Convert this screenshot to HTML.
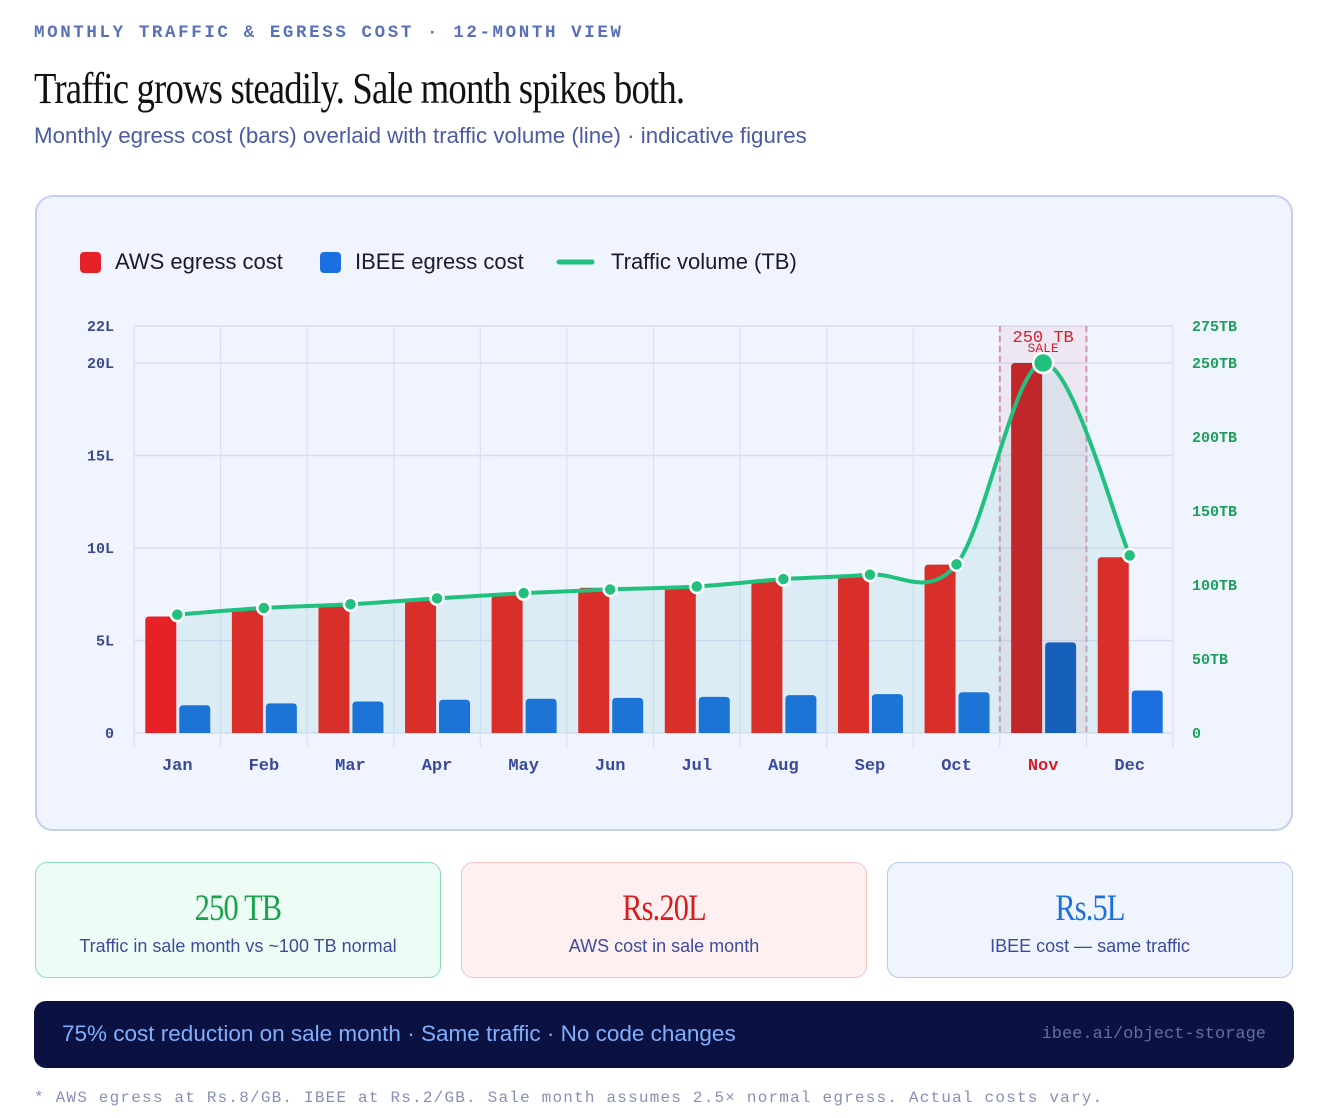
<!DOCTYPE html>
<html><head><meta charset="utf-8">
<style>
*{margin:0;padding:0;box-sizing:border-box}
body{width:1328px;height:1118px;background:#fff;position:relative;overflow:hidden;font-family:"Liberation Sans",sans-serif}
.abs{position:absolute}
.eyebrow{left:34px;top:23px;font-family:"Liberation Mono",monospace;font-size:17.5px;letter-spacing:2.6px;color:#5a70b8;font-weight:bold}
.title{left:34px;top:63px;font-family:"Liberation Serif",serif;font-size:44px;color:#111;white-space:nowrap;transform:scaleX(0.835);transform-origin:left top;letter-spacing:-1px}
.sub{left:34px;top:123px;font-size:22.3px;color:#4b5aa8;white-space:nowrap}
.chartcard{left:35px;top:195px;width:1258px;height:636px;border:2px solid #c3cff0;border-radius:18px;background:#eff4fe}
.card{top:862px;width:406px;height:116px;border-radius:12px;text-align:center}
.card .big{font-family:"Liberation Serif",serif;font-size:37px;margin-top:24px;transform:scaleX(0.82);letter-spacing:-1px}
.card .lbl{font-size:18px;color:#3d4c9a;margin-top:6px}
.banner{left:34px;top:1001px;width:1260px;height:67px;border-radius:12px;background:#0b1140}
.foot{left:34px;top:1089px;font-family:"Liberation Mono",monospace;font-size:16px;letter-spacing:1.2px;color:#8590b8;white-space:nowrap}
</style></head><body>
<div class="abs eyebrow">MONTHLY TRAFFIC &amp; EGRESS COST · 12-MONTH VIEW</div>
<div class="abs title">Traffic grows steadily. Sale month spikes both.</div>
<div class="abs sub">Monthly egress cost (bars) overlaid with traffic volume (line) · indicative figures</div>
<div class="abs chartcard"></div>
<svg class="abs" style="left:0;top:0" width="1328" height="850" id="chart">
<g id="legend">
<g><rect x="80" y="252" width="21" height="21" rx="4" fill="#e52227"/><text x="115" y="269" font-size="22" fill="#1a1a2e" font-family="Liberation Sans">AWS egress cost</text></g>
<g><rect x="320" y="252" width="21" height="21" rx="4" fill="#1b6fe0"/><text x="355" y="269" font-size="22" fill="#1a1a2e" font-family="Liberation Sans">IBEE egress cost</text></g>
<g><line x1="559" y1="262" x2="592" y2="262" stroke="#22c07e" stroke-width="5" stroke-linecap="round"/><text x="611" y="269" font-size="22" fill="#1a1a2e" font-family="Liberation Sans">Traffic volume (TB)</text></g>
</g>
<g id="grid"></g><g id="band"></g><g id="fill"></g><g id="bars"></g><g id="line"></g><g id="axes"></g>
</svg>
<div class="abs card" style="left:35px;background:#edfdf6;border:1px solid #86e0b0"><div class="big" style="color:#17a34a">250 TB</div><div class="lbl">Traffic in sale month vs ~100 TB normal</div></div>
<div class="abs card" style="left:461px;background:#fef0f0;border:1px solid #f8c4c4"><div class="big" style="color:#d91c1c">Rs.20L</div><div class="lbl">AWS cost in sale month</div></div>
<div class="abs card" style="left:887px;background:#eff4fe;border:1px solid #b5c9f5"><div class="big" style="color:#1b6fe0">Rs.5L</div><div class="lbl">IBEE cost — same traffic</div></div>
<div class="abs banner">
<div class="abs" style="left:28px;top:20px;font-size:22.5px;color:#7fb0ff;white-space:nowrap">75% cost reduction on sale month · Same traffic · No code changes</div>
<div class="abs" style="right:28px;top:24px;font-family:'Liberation Mono',monospace;font-size:17px;color:#5f6fa8">ibee.ai/object-storage</div>
</div>
<div class="abs foot">* AWS egress at Rs.8/GB. IBEE at Rs.2/GB. Sale month assumes 2.5× normal egress. Actual costs vary.</div>
<script>
const months=["Jan","Feb","Mar","Apr","May","Jun","Jul","Aug","Sep","Oct","Nov","Dec"];
const awsCost=[6.3,6.7,6.9,7.2,7.45,7.85,7.95,8.2,8.45,9.1,20,9.5];
const ibeeCost=[1.5,1.6,1.7,1.8,1.85,1.9,1.95,2.05,2.1,2.2,4.9,2.3];
const traffic=[80,84.5,87,91,94.5,97,99,104,107,114,250,120];
const leftTicks=[0,5,10,15,20,22];
const rightTicks=[0,50,100,150,200,250,275];
const saleIndex=10;
const NS="http://www.w3.org/2000/svg";
const X0=134,X1=1173,Y0=733,Y1=326,LMAX=22,RMAX=275;
const bw=(X1-X0)/months.length;
const xc=i=>X0+bw*(i+0.5);
const yL=v=>Y0-(Y0-Y1)*v/LMAX;
const yR=v=>Y0-(Y0-Y1)*v/RMAX;
function mk(tag,attrs,parent,txt){const e=document.createElementNS(NS,tag);for(const k in attrs)e.setAttribute(k,attrs[k]);if(txt!==undefined)e.textContent=txt;document.getElementById(parent).appendChild(e);return e;}
const mono="Liberation Mono";
leftTicks.forEach(t=>{const l=mk('line',{x1:X0,x2:X1,y1:yL(t),y2:yL(t),stroke:'#d6ddf3','stroke-width':1.5},'grid');
});
for(let i=0;i<=months.length;i++){const l=mk('line',{x1:X0+bw*i,x2:X0+bw*i,y1:Y1,y2:Y0+14,stroke:'#dbe1f5','stroke-width':1.2},'grid');
}
const bx=X0+bw*saleIndex;
let e=mk('rect',{x:bx,y:Y1,width:bw,height:Y0-Y1,fill:'rgba(230,60,100,0.07)'},'band');

[bx,bx+bw].forEach(x=>{const d=mk('line',{x1:x,x2:x,y1:Y1,y2:Y0,stroke:'#d9929f','stroke-width':2,'stroke-dasharray':'6 4'},'band');
});
const pts=traffic.map((v,i)=>[xc(i),yR(v)]);
let d='M'+pts[0][0]+','+pts[0][1];
for(let i=0;i<pts.length-1;i++){const p0=pts[Math.max(0,i-1)],p1=pts[i],p2=pts[i+1],p3=pts[Math.min(pts.length-1,i+2)];
d+=' C'+(p1[0]+(p2[0]-p0[0])/6)+','+(p1[1]+(p2[1]-p0[1])/6)+' '+(p2[0]-(p3[0]-p1[0])/6)+','+(p2[1]-(p3[1]-p1[1])/6)+' '+p2[0]+','+p2[1];}
e=mk('path',{d:d+' L'+pts[pts.length-1][0]+','+Y0+' L'+pts[0][0]+','+Y0+' Z',fill:'rgba(150,210,210,0.22)'},'fill');

months.forEach((m,i)=>{const c=xc(i);const sale=i===saleIndex;
const r=mk('path',{d:bar(c-32,31,awsCost[i]),fill:sale?'#c1262a':(i===0?'#e62226':'#d82f2a')},'bars');

const b=mk('path',{d:bar(c+2,31,ibeeCost[i]),fill:sale?'#1560bb':(i===11?'#1b6fe0':'#1b74d6')},'bars');
});
function bar(x,w,v){const y=yL(v),r=4;return `M${x},${Y0} L${x},${y+r} Q${x},${y} ${x+r},${y} L${x+w-r},${y} Q${x+w},${y} ${x+w},${y+r} L${x+w},${Y0} Z`;}
e=mk('path',{d:d,fill:'none',stroke:'#22c07e','stroke-width':4,'stroke-linejoin':'round'},'line');

pts.forEach((p,i)=>{const c=mk('circle',{cx:p[0],cy:p[1],r:i===saleIndex?10:6.5,fill:'#22c07e',stroke:'#fff','stroke-width':2.5},'line');
});
e=mk('text',{x:xc(saleIndex),y:yR(traffic[saleIndex])-21,'text-anchor':'middle','font-family':mono,'font-size':17,fill:'#d71f2a'},'line',traffic[saleIndex]+' TB');

e=mk('text',{x:xc(saleIndex),y:yR(traffic[saleIndex])-11,'text-anchor':'middle','font-family':mono,'font-size':13,fill:'#d71f2a'},'line','SALE');

leftTicks.forEach(t=>{const l=mk('text',{x:114,y:yL(t)+5,'text-anchor':'end','font-family':mono,'font-size':15,'font-weight':'bold',fill:'#3b4a8f'},'axes',t===0?'0':t+'L');
});
rightTicks.forEach(t=>{const l=mk('text',{x:1192,y:yR(t)+5,'font-family':mono,'font-size':15,'font-weight':'bold',fill:'#1e9e5a'},'axes',t===0?'0':t+'TB');
});
months.forEach((m,i)=>{const l=mk('text',{x:xc(i),y:770,'text-anchor':'middle','font-family':mono,'font-size':17,'font-weight':'bold',fill:i===saleIndex?'#d71f2a':'#3a4a9a'},'axes',m);
});
</script>
</body></html>
